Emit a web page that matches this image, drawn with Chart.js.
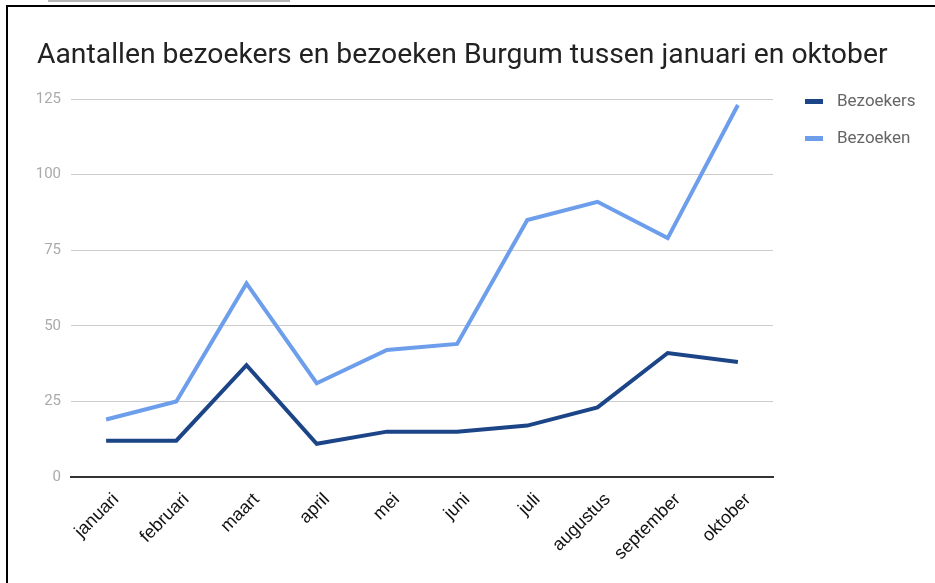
<!DOCTYPE html>
<html>
<head>
<meta charset="utf-8">
<script src="https://cdn.jsdelivr.net/npm/chart.js@4"></script>
<style>
  html, body { margin: 0; padding: 0; background: #fff; width: 935px; height: 583px; overflow: hidden; }
  #topbar { position: absolute; left: 48px; top: 0; width: 242px; height: 2px; background: #b5b5b5; }
  #frame { position: absolute; left: 6px; top: 5px; width: 940px; height: 600px; border-left: 2px solid #000; border-top: 2px solid #000; }
  #title { position: absolute; left: 37px; top: 37px; font-family: Roboto, sans-serif; font-size: 28.3px; color: #222; white-space: nowrap; }
  #wrap { position: absolute; left: 0; top: 0; width: 935px; height: 583px; }
  #legend { position: absolute; left: 805px; top: 90px; font-family: Roboto, sans-serif; font-size: 17px; color: #666; }
  .item { position: relative; height: 37px; }
  .sw { position: absolute; left: 0; top: 9px; width: 18px; height: 5px; }
  .lab { position: absolute; left: 32px; top: 0; white-space: nowrap; }
</style>
</head>
<body>
<div id="topbar"></div>
<div id="frame"></div>
<div id="wrap"><canvas id="c" width="935" height="583"></canvas></div>
<div id="title">Aantallen bezoekers en bezoeken Burgum tussen januari en oktober</div>
<div id="legend"></div>
<script>
const months = ["januari","februari","maart","april","mei","juni","juli","augustus","september","oktober"];
const bezoekers = [12, 12, 37, 11, 15, 15, 17, 23, 41, 38];
const bezoeken = [19, 25, 64, 31, 42, 44, 85, 91, 79, 123];
const yTicks = [0, 25, 50, 75, 100, 125];
const seriesNames = ["Bezoekers", "Bezoeken"];
const seriesColors = ["#1c4587", "#6d9eeb"];

const datasets = [bezoekers, bezoeken].map((d, i) => ({
  label: seriesNames[i],
  data: d,
  borderColor: seriesColors[i],
  backgroundColor: seriesColors[i],
  borderWidth: 4,
  pointRadius: 0,
  pointHoverRadius: 0,
  tension: 0,
  fill: false
}));

new Chart(document.getElementById('c'), {
  type: 'line',
  data: { labels: months, datasets: datasets },
  options: {
    responsive: false,
    animation: false,
    events: [],
    layout: { padding: { left: 0, right: 162, top: 99, bottom: 0 } },
    plugins: { legend: { display: false }, title: { display: false }, tooltip: { enabled: false } },
    scales: {
      x: {
        offset: true,
        grid: { display: false, drawTicks: false },
        border: { display: true, color: '#333', width: 2 },
        ticks: {
          autoSkip: false, maxRotation: 45, minRotation: 45, padding: 12, labelOffset: 10,
          color: '#111', font: { family: 'Liberation Sans, Arial, sans-serif', size: 18 }
        },
        afterFit: s => { s.height = 106; }
      },
      y: {
        min: 0, max: 125,
        afterBuildTicks: s => { s.ticks = yTicks.map(v => ({ value: v })); },
        grid: { color: '#cccccc', lineWidth: 1, drawTicks: false },
        border: { display: false },
        ticks: {
          padding: 10, color: '#aaaaaa',
          font: { family: 'Roboto, sans-serif', size: 15 }
        },
        afterFit: s => { s.width = 71; }
      }
    }
  }
});

const leg = document.getElementById('legend');
seriesNames.forEach((n, i) => {
  const it = document.createElement('div'); it.className = 'item';
  const sw = document.createElement('div'); sw.className = 'sw'; sw.style.background = seriesColors[i];
  const lb = document.createElement('div'); lb.className = 'lab'; lb.textContent = n;
  it.appendChild(sw); it.appendChild(lb); leg.appendChild(it);
});
</script>
</body>
</html>
